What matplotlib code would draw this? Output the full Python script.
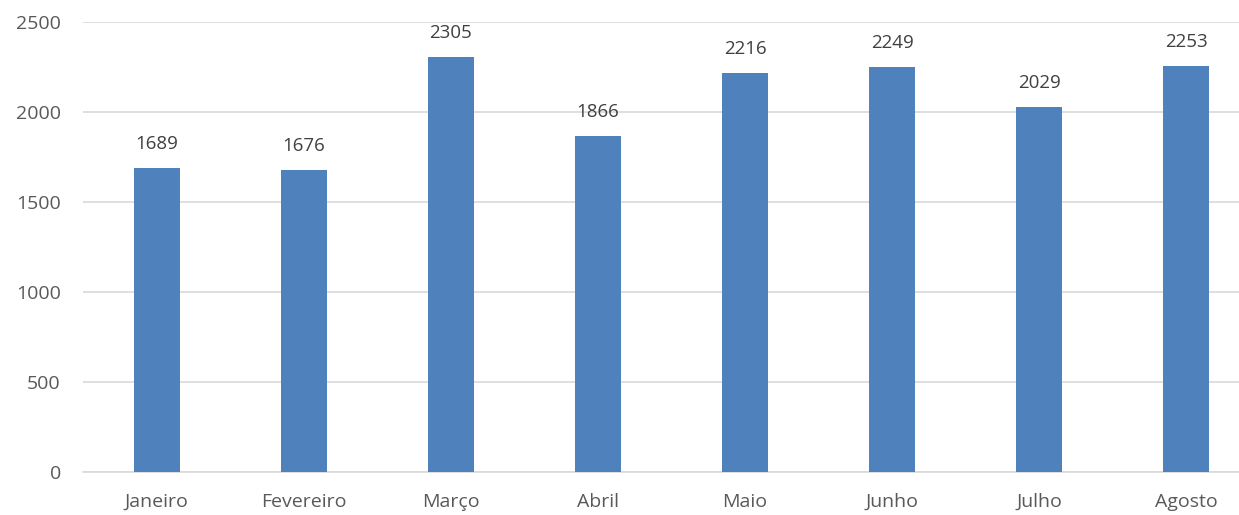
import matplotlib.pyplot as plt

meses = ['Janeiro', 'Fevereiro', 'Março', 'Abril', 'Maio', 'Junho', 'Julho', 'Agosto']
valores = [1689, 1676, 2305, 1866, 2216, 2249, 2029, 2253]

plt.rcParams['font.family'] = ['Open Sans', 'DejaVu Sans']

fig = plt.figure(figsize=(12.39, 5.15), dpi=100)
ax = fig.add_axes([83 / 1239, 1 - 472 / 515, 1177 / 1239, 450 / 515])

x = range(len(meses))
bars = ax.bar(x, valores, width=0.313, color='#4F81BD', zorder=3)
for xi, v in zip(x, valores):
    ax.annotate(str(v), (xi, v), xytext=(0, 11), textcoords='offset points',
                ha='center', va='bottom', fontsize=13.5, color='#404040')

ax.set_xlim(-0.5, len(meses) - 0.5)
ax.set_ylim(0, 2500)
ax.set_yticks(range(0, 2501, 500))
ax.set_xticks(list(x))
ax.set_xticklabels(meses)
ax.tick_params(axis='both', length=0, labelsize=14, labelcolor='#595959')
ax.tick_params(axis='x', pad=15)
ax.tick_params(axis='y', pad=16)
ax.yaxis.grid(True, color='#D9D9D9', linewidth=1.2, zorder=0)
for s in ['top', 'right', 'left']:
    ax.spines[s].set_visible(False)
ax.spines['bottom'].set_color('#D9D9D9')
ax.spines['bottom'].set_linewidth(1.2)

fig.savefig('out.png', dpi=100)
